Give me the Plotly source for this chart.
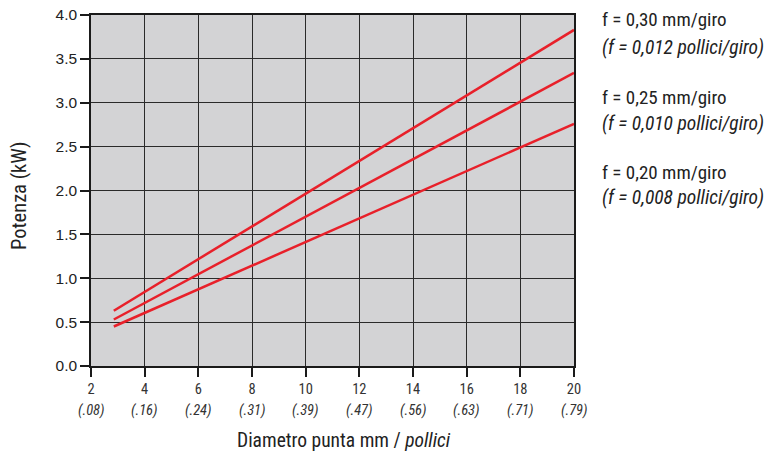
import plotly.graph_objects as go

# Data
diam_mm = [2.85, 20]
power_f030 = [0.63, 3.83]
power_f025 = [0.53, 3.34]
power_f020 = [0.45, 2.76]

x_tick_vals = [2, 4, 6, 8, 10, 12, 14, 16, 18, 20]
x_tick_inch = ["(.08)", "(.16)", "(.24)", "(.31)", "(.39)", "(.47)", "(.56)", "(.63)", "(.71)", "(.79)"]
y_tick_vals = [0.0, 0.5, 1.0, 1.5, 2.0, 2.5, 3.0, 3.5, 4.0]

series_labels = [
    ("f = 0,30 mm/giro", "(f = 0,012 pollici/giro)"),
    ("f = 0,25 mm/giro", "(f = 0,010 pollici/giro)"),
    ("f = 0,20 mm/giro", "(f = 0,008 pollici/giro)"),
]

NARROW = "Liberation Sans Narrow, Roboto Condensed, Arial Narrow, sans-serif"
RED = "#e8202a"
TXT = "#222222"

fig = go.Figure()
for ys in (power_f030, power_f025, power_f020):
    fig.add_trace(go.Scatter(x=diam_mm, y=ys, mode="lines",
                             line=dict(color=RED, width=2.5), showlegend=False,
                             hoverinfo="skip"))

PLOT_H = 351.0

fig.update_layout(
    width=767, height=458,
    margin=dict(l=91, r=193, t=15, b=92, autoexpand=False),
    paper_bgcolor="white",
    plot_bgcolor="#d3d3d5",
    xaxis=dict(range=[2, 20], tickvals=x_tick_vals,
               ticktext=[str(v) for v in x_tick_vals],
               showgrid=True, gridcolor="#2a2a2a", gridwidth=1.2,
               ticks="outside", ticklen=9, tickcolor="#1a1a1a", tickwidth=1.5,
               showline=True, linecolor="#1a1a1a", linewidth=1.5, mirror=True,
               zeroline=False, automargin=False, ticklabeloverflow="allow",
               tickfont=dict(family=NARROW, size=14.5, color="#333333")),
    yaxis=dict(range=[0, 4.0], tickvals=y_tick_vals,
               ticktext=[f"{v:.1f}" for v in y_tick_vals],
               showgrid=True, gridcolor="#2a2a2a", gridwidth=1.2,
               ticks="outside", ticklen=9, tickcolor="#1a1a1a", tickwidth=1.5,
               showline=True, linecolor="#1a1a1a", linewidth=1.5, mirror=True,
               zeroline=False, automargin=False, ticklabeloverflow="allow",
               tickfont=dict(family="Liberation Sans, Arial, sans-serif", size=15.5, color=TXT)),
)

# inch tick labels (second line under each tick)
for v, t in zip(x_tick_vals, x_tick_inch):
    fig.add_annotation(xref="x", yref="paper", x=v, y=0, yshift=-44,
                       xanchor="center", yanchor="middle", showarrow=False,
                       text=f"<i>{t}</i>",
                       font=dict(family=NARROW, size=14.5, color="#333333"))

# axis titles
fig.add_annotation(xref="paper", yref="paper", x=0.5, y=0, xshift=11, yshift=-74,
                   xanchor="center", yanchor="middle", showarrow=False,
                   text="Diametro punta mm / <i>pollici</i>",
                   font=dict(family=NARROW, size=19.5, color=TXT))
fig.add_annotation(xref="paper", yref="paper", x=0, y=(366 - 196) / PLOT_H, xshift=-72,
                   xanchor="center", yanchor="middle", showarrow=False, textangle=-90,
                   text="Potenza (kW)",
                   font=dict(family=NARROW, size=20.5, color=TXT))

# series labels on the right
line_px = [(20, 47), (97, 123), (172, 198)]
for (l1, l2), (p1, p2) in zip(series_labels, line_px):
    fig.add_annotation(xref="paper", yref="paper", x=1.0, y=(366 - p1) / PLOT_H, xshift=26,
                       xanchor="left", yanchor="middle", showarrow=False,
                       text=l1, font=dict(family=NARROW, size=19, color=TXT))
    fig.add_annotation(xref="paper", yref="paper", x=1.0, y=(366 - p2) / PLOT_H, xshift=26,
                       xanchor="left", yanchor="middle", showarrow=False,
                       text=f"<i>{l2}</i>", font=dict(family=NARROW, size=19.5, color=TXT))

fig.write_html("out.html", config={"displayModeBar": False},
               post_script="document.body.style.margin='0';")
